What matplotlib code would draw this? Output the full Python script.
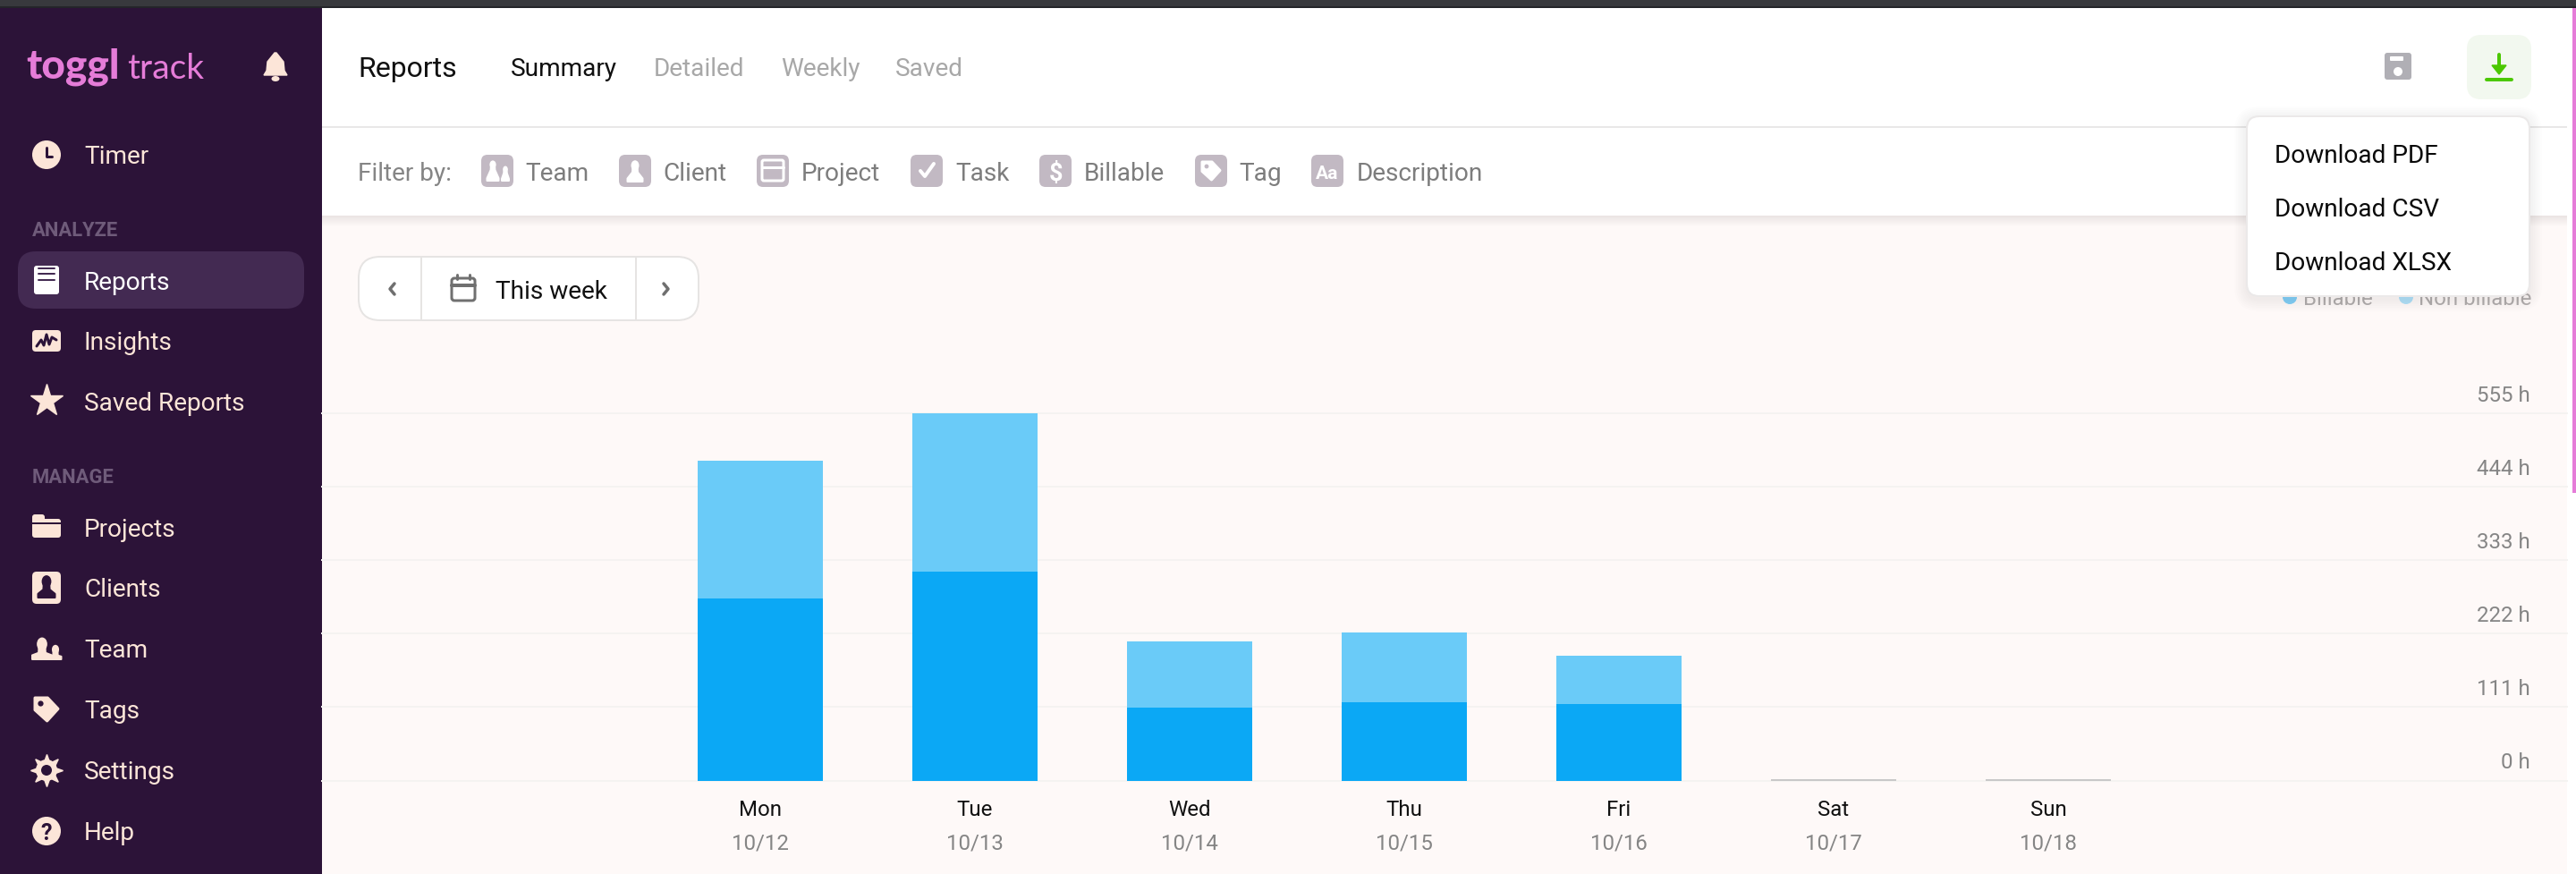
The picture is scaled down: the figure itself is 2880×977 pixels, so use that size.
import matplotlib
matplotlib.use('Agg')
import matplotlib.pyplot as plt
from matplotlib.patches import FancyBboxPatch, Rectangle, Circle, Ellipse, Polygon
from matplotlib.transforms import ScaledTranslation
import numpy as np

# chart values
days = ['Mon', 'Tue', 'Wed', 'Thu', 'Fri', 'Sat', 'Sun']
dates = ['10/12', '10/13', '10/14', '10/15', '10/16', '10/17', '10/18']
billable_hours = [275, 315, 110, 118, 115, 0, 0]
nonbillable_hours = [208, 239, 100, 105, 73, 0, 0]
empty_hours = [0, 0, 0, 0, 0, 2, 2]  # the thin grey stubs on the weekend
y_ticks = [0, 111, 222, 333, 444, 555]
y_labels = ['0 h', '111 h', '222 h', '333 h', '444 h', '555 h']

# texts of the app around the chart
analyze_items = ['Reports', 'Insights', 'Saved Reports']
manage_items = ['Projects', 'Clients', 'Team', 'Tags', 'Settings', 'Help']
tabs = ['Summary', 'Detailed', 'Weekly', 'Saved']
filters = ['Team', 'Client', 'Project', 'Task', 'Billable', 'Tag', 'Description']
downloads = ['Download PDF', 'Download CSV', 'Download XLSX']

W, H = 2880, 978
PURPLE = '#2c1338'
PEACH = '#fce5d8'
PINK = '#e57cd8'
PAGE = '#fef9f8'
ICON_GREY = '#c2b9c3'
plt.rcParams['font.family'] = ['Roboto', 'DejaVu Sans']


def px(size):
    # the picture is 100 dpi, sizes below are in pixels
    return size * 0.72


def rrect(ax, x0, y0, x1, y1, r, fc, ec='none', lw=0, alpha=None, z=2):
    ax.add_patch(FancyBboxPatch((x0 + r, y0 + r), x1 - x0 - 2 * r, y1 - y0 - 2 * r,
                                boxstyle='round,pad=%f,rounding_size=%f' % (r, r),
                                fc=fc, ec=ec, lw=lw, alpha=alpha, zorder=z))


def rect(ax, x0, y0, x1, y1, fc, alpha=None, z=1):
    ax.add_patch(Rectangle((x0, y0), x1 - x0, y1 - y0, fc=fc, ec='none', alpha=alpha, zorder=z))


def label(ax, x, y, s, size, color, weight='normal', ha='left', family=None, z=5):
    ax.text(x, y, s, fontsize=px(size), color=color, fontweight=weight, ha=ha, va='baseline',
            family=family or ['Roboto', 'DejaVu Sans'], zorder=z)


def line(ax, xs, ys, color, width, z=4):
    ax.plot(xs, ys, color=color, lw=px(width), solid_capstyle='round', solid_joinstyle='round', zorder=z)


def person(ax, cx, head_y, r, base_y, base_w, color, z=4):
    # head on a neck that flares out to a flat base
    ax.add_patch(Ellipse((cx, head_y), r * 1.8, r * 2.3, fc=color, ec='none', zorder=z))
    half = base_w / 2
    ax.add_patch(Polygon([(cx - r * 0.5, head_y), (cx + r * 0.5, head_y), (cx + r * 0.6, head_y + r * 1.5),
                          (cx + half, base_y - r * 0.7), (cx + half, base_y), (cx - half, base_y),
                          (cx - half, base_y - r * 0.7), (cx - r * 0.6, head_y + r * 1.5)],
                         closed=True, fc=color, ec=color, lw=px(2), joinstyle='round', zorder=z))


def tag_shape(ax, cx, cy, s, color, hole, z=4):
    pts = np.array([[-1, -1], [0.1, -1], [1, -0.05], [0.05, 1], [-1, 0.05]]) * s
    ax.add_patch(Polygon(pts + [cx, cy], closed=True, fc=color, ec=color, lw=px(3),
                         joinstyle='round', zorder=z))
    ax.add_patch(Circle((cx - 0.5 * s, cy - 0.5 * s), 0.24 * s, fc=hole, ec='none', zorder=z + 1))


fig = plt.figure(figsize=(W / 100, H / 100), dpi=100)
fig.patch.set_facecolor(PAGE)

# back layer: page, toolbar, sidebar, all in pixel coordinates
bg = fig.add_axes([0, 0, 1, 1], zorder=0)
bg.set_xlim(0, W)
bg.set_ylim(H, 0)
bg.axis('off')

rect(bg, 2870, 0, W, H, 'white')
rect(bg, 2876, 10, W, 552, PINK)
rect(bg, 360, 10, 2870, 242, 'white')
rect(bg, 360, 142, 2870, 144, '#e9e8e8')
# soft shadow under the filter bar
for i, alpha in enumerate(np.linspace(0.10, 0.005, 12)):
    rect(bg, 360, 242 + i, 2870, 243 + i, '#403030', alpha=alpha)
rect(bg, 0, 0, W, 8, '#38393d', z=3)
rect(bg, 0, 8, W, 10, '#24252a', z=3)
rect(bg, 0, 10, 360, H, PURPLE, z=2)

# sidebar
label(bg, 29, 88, 'toggl', 46, PINK, weight='black', family=['Lato'])
label(bg, 142, 88, 'track', 39, PINK, family=['Lato'])
rrect(bg, 20, 282, 340, 346, 20, '#432a52')
label(bg, 94, 183, 'Timer', 28, PEACH)
label(bg, 36, 264, 'ANALYZE', 22, '#6f5b7a', weight='bold')
label(bg, 36, 540, 'MANAGE', 22, '#6f5b7a', weight='bold')
for name, y in zip(analyze_items, [324, 391, 459]):
    label(bg, 94, y, name, 28, 'white' if name == 'Reports' else PEACH)
for name, y in zip(manage_items, [600, 667, 735, 803, 871, 939]):
    label(bg, 94, y, name, 28, PEACH)

# bell
bg.add_patch(Polygon([(295, 85), (298, 80), (299, 70), (303, 65), (307, 60), (309, 60), (313, 65),
                      (317, 70), (318, 80), (321, 85)], closed=True, fc=PEACH, ec=PEACH, lw=1, zorder=4))
bg.add_patch(Ellipse((308, 89), 9, 6, fc=PEACH, ec='none', zorder=4))
# timer
bg.add_patch(Circle((52, 174), 16, fc=PEACH, ec='none', zorder=4))
line(bg, [52, 52, 58], [166, 176, 176], PURPLE, 3, z=5)
# reports
rrect(bg, 38, 298, 66, 330, 3, 'white', z=4)
for y in [301, 307, 314]:
    line(bg, [43, 61], [y, y], '#432a52', 2, z=5)
# insights
rrect(bg, 36, 370, 68, 394, 4, PEACH, z=4)
line(bg, [41, 46, 49, 52, 55, 58, 63], [388, 381, 387, 375, 386, 378, 381], PURPLE, 3, z=5)
# saved reports
bg.plot(52, 449, marker='*', ms=px(38), color=PEACH, mec=PEACH, zorder=4)
# projects
rrect(bg, 36, 576, 50, 590, 3, PEACH, z=4)
rrect(bg, 36, 581, 68, 602, 3, PEACH, z=4)
line(bg, [36, 68], [586, 586], PURPLE, 2, z=5)
# clients
rrect(bg, 36, 640, 68, 676, 5, PEACH, z=4)
person(bg, 52, 651, 6, 669, 19, PURPLE, z=5)
# team
person(bg, 47, 721, 6.5, 738, 22, PEACH)
person(bg, 62, 727, 4.5, 738, 13, PEACH)
# tags
tag_shape(bg, 52, 794, 13, PEACH, PURPLE)
# settings
bg.plot(52, 862, marker=(8, 1, 0), ms=px(36), color=PEACH, mec=PEACH, zorder=4)
bg.add_patch(Circle((52, 862), 12, fc=PEACH, ec='none', zorder=4))
bg.add_patch(Circle((52, 862), 6, fc=PURPLE, ec='none', zorder=5))
# help
bg.add_patch(Circle((52, 930), 16, fc=PEACH, ec='none', zorder=4))
label(bg, 52, 939, '?', 25, PURPLE, weight='bold', ha='center')

# toolbar
label(bg, 400, 86, 'Reports', 32, '#111111')
label(bg, 571, 85, tabs[0], 28, '#111111')
for name, x in zip(tabs[1:], [731, 873, 1001]):
    label(bg, x, 85, name, 28, '#a8a8a8')
label(bg, 400, 202, 'Filter by:', 28, '#858585')

icon_x = [538, 692, 846, 1018, 1162, 1336, 1466]
text_x = [587, 741, 896, 1068, 1212, 1385, 1517]
for name, x0, tx in zip(filters, icon_x, text_x):
    rrect(bg, x0, 174, x0 + 36, 210, 7, ICON_GREY, z=3)
    label(bg, tx, 202, name, 28, '#7d7d7d')
    cx = x0 + 18
    if name == 'Team':
        person(bg, cx - 5, 185, 4, 203, 13, 'white')
        person(bg, cx + 9, 190, 3, 203, 8, 'white')
    elif name == 'Client':
        person(bg, cx, 186, 5, 204, 17, 'white')
    elif name == 'Project':
        rrect(bg, cx - 12, 180, cx + 12, 203, 2, 'none', ec='white', lw=px(3), z=4)
        line(bg, [cx - 12, cx + 12], [188, 188], 'white', 3)
    elif name == 'Task':
        line(bg, [cx - 7, cx - 2, cx + 8], [192, 198, 184], 'white', 4)
    elif name == 'Billable':
        label(bg, cx, 202, '$', 27, 'white', weight='bold', ha='center')
    elif name == 'Tag':
        tag_shape(bg, cx, 192, 10, 'white', ICON_GREY)
    else:
        label(bg, cx, 200, 'Aa', 21, 'white', weight='bold', ha='center')

# save and download buttons
rrect(bg, 2666, 60, 2696, 90, 3, '#b0afb5', z=3)
rrect(bg, 2672, 64, 2687, 69, 1, 'white', z=4)
bg.add_patch(Circle((2681, 81), 5, fc='white', ec='none', zorder=4))
rrect(bg, 2758, 40, 2830, 112, 16, '#f2f8ef', z=3)
line(bg, [2794, 2794], [62, 80], '#4bc800', 4)
bg.add_patch(Polygon([(2786, 74), (2802, 74), (2794, 84)], closed=True, fc='#4bc800', ec='#4bc800', lw=1, zorder=4))
line(bg, [2780, 2808], [90, 90], '#4bc800', 4)

# date picker
rrect(bg, 401, 288, 781, 359, 24, 'white', ec='#e6e4e3', lw=px(2), z=3)
line(bg, [471, 471], [289, 358], '#e6e4e3', 2)
line(bg, [711, 711], [289, 358], '#e6e4e3', 2)
line(bg, [441, 436, 441], [318, 324, 330], '#6f6f6f', 3.5)
line(bg, [742, 747, 742], [318, 324, 330], '#6f6f6f', 3.5)
rrect(bg, 505, 312, 531, 337, 3, 'none', ec='#707070', lw=px(3), z=4)
line(bg, [505, 531], [320, 320], '#707070', 4)
line(bg, [511, 511], [308, 313], '#707070', 3)
line(bg, [525, 525], [308, 313], '#707070', 3)
label(bg, 554, 334, 'This week', 28, '#111111')

# legend sits behind the dropdown, only its lower edge shows
bg.add_patch(Circle((2560, 333), 8, fc='#0ba8f5', alpha=0.5, ec='none', zorder=4))
bg.add_patch(Circle((2690, 333), 8, fc='#6acbf8', alpha=0.5, ec='none', zorder=4))
label(bg, 2575, 341, 'Billable', 24, '#b4b0b0')
label(bg, 2704, 341, 'Non billable', 24, '#b4b0b0')

# the chart itself: one axes with real scales, 0 h sits on y=873.5
left, right, top, bottom = 360, 2870, 462.7, 873.5
ax = fig.add_axes([left / W, 1 - bottom / H, (right - left) / W, (bottom - top) / H], zorder=1)
ax.patch.set_alpha(0)
x = np.arange(len(days))
bar_w = 140 / 240
ax.bar(x, billable_hours, width=bar_w, color='#0ba8f5', linewidth=0, zorder=3)
ax.bar(x, nonbillable_hours, width=bar_w, bottom=billable_hours, color='#6acbf8', linewidth=0, zorder=3)
ax.bar(x, empty_hours, width=bar_w, color='#c8c8c8', linewidth=0, zorder=3)
ax.set_xlim((left - 850) / 240, (right - 850) / 240)
ax.set_ylim(0, 555)
for s in ax.spines.values():
    s.set_visible(False)

ax.set_yticks(y_ticks, y_labels)
ax.yaxis.tick_right()
ax.tick_params(axis='y', length=0, pad=px(-41), labelsize=px(24), labelcolor='#858585')
lift = ScaledTranslation(0, px(9) / 72, fig.dpi_scale_trans)
for t in ax.get_yticklabels():
    t.set_ha('right')
    t.set_va('bottom')
    t.set_transform(t.get_transform() + lift)
ax.grid(axis='y', color='#f5f3f1', lw=px(2), zorder=1)
for g in ax.get_ygridlines():
    g.set_clip_on(False)

ax.set_xticks(x, days)
ax.tick_params(axis='x', length=0, pad=px(21), labelsize=px(24), labelcolor='#111111')
for i, d in enumerate(dates):
    ax.annotate(d, xy=(i, 0), xytext=(0, px(-76)), textcoords='offset points', ha='center',
                va='baseline', fontsize=px(24), color='#858585', annotation_clip=False)

# front layer: the open dropdown
top_ax = fig.add_axes([0, 0, 1, 1], zorder=2)
top_ax.set_xlim(0, W)
top_ax.set_ylim(H, 0)
top_ax.axis('off')
top_ax.patch.set_alpha(0)
for grow in range(14, 0, -2):
    rrect(top_ax, 2512 - grow, 131 - grow + 3, 2828 + grow, 332 + grow + 3, 14 + grow, '#000000',
          alpha=0.008, z=2)
rrect(top_ax, 2512, 131, 2828, 332, 14, 'white', ec='#ebe9e9', lw=px(2), z=3)
for name, y in zip(downloads, [182, 242, 302]):
    label(top_ax, 2543, y, name, 28, '#0a0a0a')

fig.savefig('out.png', dpi=100)
